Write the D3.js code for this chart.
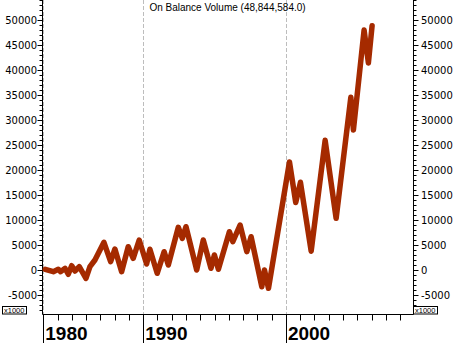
<!DOCTYPE html>
<html lang="en">
<head>
  <meta charset="UTF-8" />
  <title>On Balance Volume</title>
  <script src="https://d3js.org/d3.v7.min.js"></script>
  <style>
    body { margin: 0; background: #fff; }
    svg { display: block; }
    .tick-label { font: 10px "DejaVu Sans", sans-serif; fill: #000; }
    .title { font: 10px "Liberation Sans", Arial, sans-serif; fill: #000; }
    .decade { font: bold 19px "Liberation Sans", Arial, sans-serif; fill: #000; }
    .mult { font: 7.5px "Liberation Sans", Arial, sans-serif; fill: #000; }
  </style>
</head>
<body>
  <svg id="chart" width="454" height="343"></svg>
  <script>
    // OBV series, values in thousands, dates as fractional years
    const years = [1980.2, 1981.0, 1981.5, 1981.74, 1982.17, 1982.5, 1982.84, 1983.17, 1983.6, 1984.27,
      1984.67, 1985.17, 1986.07, 1986.74, 1987.17, 1987.84, 1988.5, 1989.0, 1989.6,
      1990.24, 1990.47, 1990.98, 1991.47, 1991.76, 1992.46, 1992.74, 1993.0, 1993.75, 1994.21,
      1994.75, 1994.99, 1995.27, 1996.04, 1996.28, 1996.79, 1997.26, 1997.56, 1998.31, 1998.5, 1998.78,
      2000.25, 2000.69, 2001.02, 2001.77, 2002.75, 2003.52, 2004.55, 2004.73, 2005.48, 2005.78, 2006.04];
    const obv = [140, -340, 140, -340, 340, -860, 860, -200, 660, -1660,
      660, 2000, 5540, 1660, 4200, -340, 4660, 2340, 6000,
      1200, 4140, -660, 3660, 1000, 8540, 6340, 8660, 0, 6000,
      340, 3000, 140, 7660, 5660, 9000, 3660, 6660, -3340, 0, -3660,
      21600, 13500, 17540, 3760, 25940, 10340, 34540, 28000, 48000, 41400, 48845];

    const yTickValues = [-5000, 0, 5000, 10000, 15000, 20000, 25000, 30000, 35000, 40000, 45000, 50000];
    const decades = [1980, 1990, 2000];
    const decadeTick = [0, 7, 17];   // tick index of each decade
    const tickCount = 26;
    const titleText = "On Balance Volume (48,844,584.0)";

    const svg = d3.select("#chart");
    const plotLeft = 42.5, plotRight = 413.5, plotTop = 0, plotBottom = 314.5;

    const y = d3.scaleLinear().domain([-8800, 54000]).range([314, 0]);
    const xIdx = d3.scaleLinear().domain([0, 17]).range([43.3, 285.9]);
    const yearToIdx = d3.scaleLinear().domain([1980, 1990, 2000, 2010]).range([0, 7, 17, 27]);
    const x = yr => xIdx(yearToIdx(yr));

    // dashed decade gridlines
    svg.selectAll(".grid").data(decades).join("line")
      .attr("x1", d => Math.round(x(d)) + 0.5).attr("x2", d => Math.round(x(d)) + 0.5)
      .attr("y1", plotTop).attr("y2", 314)
      .attr("stroke", "#bdbdbd").attr("stroke-dasharray", "4,2");

    // y axes (left and right) with minor ticks every 1000
    const minor = d3.range(-8000, 54001, 1000);
    [{ x0: plotLeft, dir: -1 }, { x0: plotRight, dir: 1 }].forEach(a => {
      svg.append("line").attr("x1", a.x0).attr("x2", a.x0).attr("y1", plotTop).attr("y2", plotBottom)
        .attr("stroke", "#000");
      svg.selectAll(null).data(minor).join("line")
        .attr("x1", a.x0).attr("x2", d => a.x0 + a.dir * (d % 5000 === 0 ? 5 : 3))
        .attr("y1", d => Math.round(y(d)) + 0.5).attr("y2", d => Math.round(y(d)) + 0.5)
        .attr("stroke", "#000");
      svg.selectAll(null).data(yTickValues).join("text")
        .attr("class", "tick-label")
        .attr("x", a.dir < 0 ? a.x0 - 5.5 : a.x0 + 7.5)
        .attr("y", d => y(d) + 3.6)
        .attr("text-anchor", a.dir < 0 ? "end" : "start")
        .text(d => d);
    });

    // x1000 boxes
    [{ bx: 2.5 }, { bx: 413.5 }].forEach(b => {
      svg.append("rect").attr("x", b.bx).attr("y", 306.5).attr("width", 24).attr("height", 7.5)
        .attr("fill", "#fff").attr("stroke", "#000");
      svg.append("text").attr("class", "mult").attr("x", b.bx + 1.5).attr("y", 313).text("x1000");
    });

    // bottom axis
    svg.append("line").attr("x1", plotLeft).attr("x2", plotRight).attr("y1", plotBottom).attr("y2", plotBottom)
      .attr("stroke", "#000");
    svg.selectAll(".xt").data(d3.range(tickCount)).join("line")
      .attr("x1", d => Math.round(xIdx(d)) + 0.5).attr("x2", d => Math.round(xIdx(d)) + 0.5)
      .attr("y1", plotBottom).attr("y2", d => decadeTick.includes(d) ? 343 : 320.5)
      .attr("stroke", "#000");
    svg.selectAll(".decade").data(decades).join("text")
      .attr("class", "decade")
      .attr("x", d => x(d) + 2)
      .attr("y", 339.5)
      .text(d => d);

    // title
    svg.append("text").attr("class", "title").attr("x", 227.5).attr("y", 11)
      .attr("text-anchor", "middle").text(titleText);

    // OBV line
    const line = d3.line().x((d, i) => x(years[i])).y(d => y(d));
    svg.append("path").datum(obv)
      .attr("d", line)
      .attr("fill", "none")
      .attr("stroke", "#a52a00")
      .attr("stroke-width", 5.5)
      .attr("stroke-linejoin", "round")
      .attr("stroke-linecap", "round");
  </script>
</body>
</html>
